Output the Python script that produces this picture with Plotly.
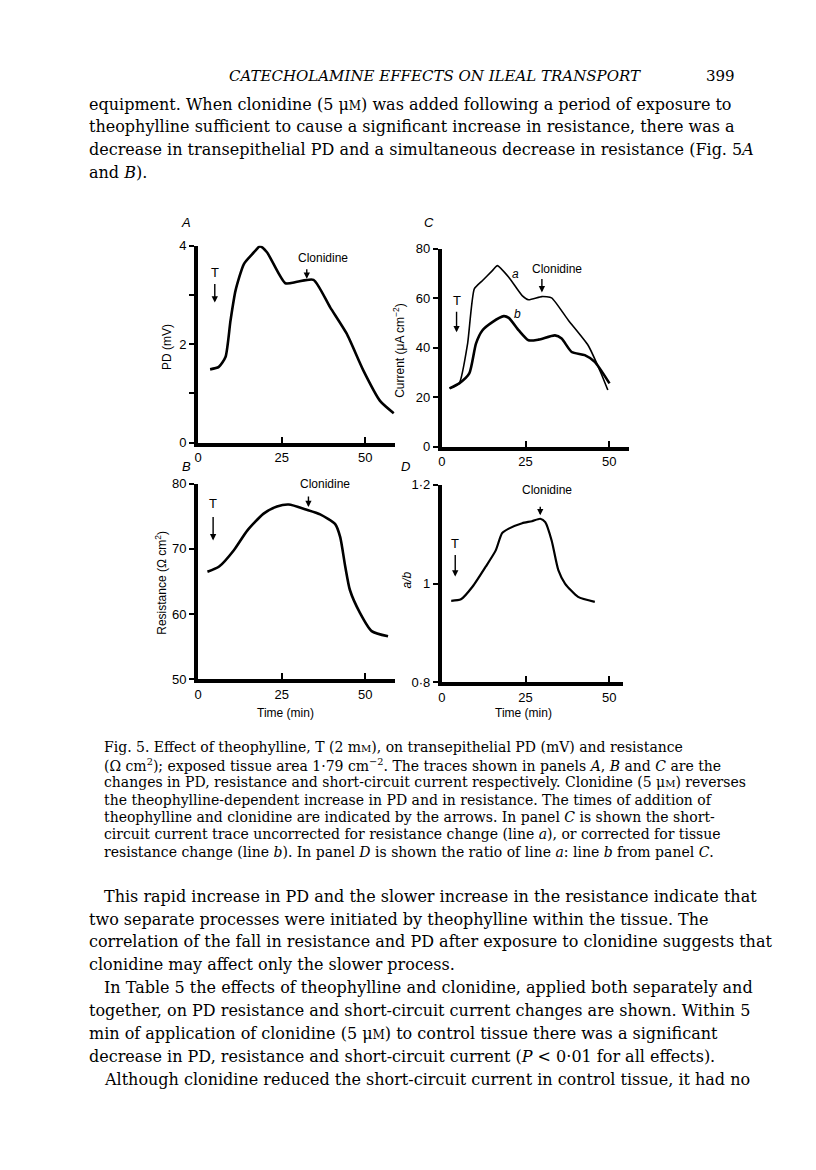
import plotly.graph_objects as go

# the html page adds an 8px body margin, so the figure is 16px smaller than the page
W, H = 800, 1154
OFF = 8
# small vertical correction measured from earlier renders
SHIFT_Y, SCALE_Y = 6.0, 0.988

# Panel A: transepithelial PD (mV) against time (min)
a_time = [3.6, 6.2, 8.2, 9.7, 11.2, 13.7, 16.2, 18.5, 20.6, 26.1, 29.6, 34.5, 39.5, 44.4, 49.4, 54.4, 58.5]
a_pd = [1.49, 1.54, 1.74, 2.48, 3.09, 3.63, 3.83, 3.99, 3.87, 3.24, 3.27, 3.31, 2.75, 2.22, 1.47, 0.85, 0.6]

# Panel B: resistance (ohm cm2)
b_time = [2.8, 6.3, 10.7, 14.7, 19.6, 23.6, 27.1, 32.5, 36.5, 41.0, 42.5, 44.0, 45.4, 48.4, 51.9, 56.8]
b_res = [66.5, 67.3, 69.8, 72.8, 75.4, 76.5, 76.8, 76.0, 75.3, 73.8, 71.8, 67.3, 63.7, 60.2, 57.4, 56.6]

# Panel C: short-circuit current, line a (uncorrected) and line b (corrected)
c_time_a = [2.3, 5.2, 7.7, 9.7, 12.1, 15.1, 16.6, 20.0, 24.0, 25.9, 29.9, 32.8, 37.8, 43.7, 47.6, 49.6]
c_cur_a = [23.6, 25.6, 41.7, 63.8, 67.1, 71.2, 73.2, 68.5, 61.1, 59.4, 60.7, 60.2, 51.1, 41.0, 29.6, 22.9]
c_time_b = [2.3, 5.2, 8.2, 10.2, 12.1, 15.1, 18.5, 20.0, 23.0, 25.9, 28.9, 33.8, 35.8, 38.8, 42.7, 45.7, 50.1]
c_cur_b = [23.6, 25.6, 29.6, 41.7, 47.0, 50.4, 52.8, 52.1, 47.0, 43.0, 43.3, 45.0, 43.7, 38.3, 37.0, 34.3, 25.6]

# Panel D: ratio a/b
d_time = [2.8, 5.7, 9.2, 13.1, 16.1, 18.0, 20.0, 24.0, 26.9, 29.4, 30.9, 32.8, 34.8, 36.8, 40.7, 45.7]
d_ratio = [0.965, 0.968, 0.994, 1.034, 1.067, 1.102, 1.111, 1.122, 1.126, 1.131, 1.124, 1.087, 1.027, 1.0, 0.973, 0.963]

# arrow markers: (time, y of arrow tip) for theophylline (T) and clonidine
t_marks = {"A": (5.0, 2.85), "B": (4.5, 71.3), "C": (4.4, 46.3), "D": (4.0, 1.014)}
clon_marks = {"A": (32.5, 3.33), "B": (33.0, 76.4), "C": (29.9, 62.4), "D": (29.4, 1.138)}

header = "<i>CATECHOLAMINE EFFECTS ON ILEAL TRANSPORT</i>"
page_no = "399"
mu_m = "\u03bc<span style='font-size:12px'>M</span>"
para1 = [
    f"equipment. When clonidine (5 {mu_m}) was added following a period of exposure to",
    "theophylline sufficient to cause a significant increase in resistance, there was a",
    "decrease in transepithelial PD and a simultaneous decrease in resistance (Fig. 5<i>A</i>",
    "and <i>B</i>).",
]
mm_c = "m<span style='font-size:10px'>M</span>"
mu_c = "\u03bc<span style='font-size:10px'>M</span>"
caption = [
    f"Fig. 5. Effect of theophylline, T (2 {mm_c}), on transepithelial PD (mV) and resistance",
    "(\u03a9 cm<sup>2</sup>); exposed tissue area 1\u00b779 cm<sup>\u22122</sup>. The traces shown in panels <i>A</i>, <i>B</i> and <i>C</i> are the",
    f"changes in PD, resistance and short-circuit current respectively. Clonidine (5 {mu_c}) reverses",
    "the theophylline-dependent increase in PD and in resistance. The times of addition of",
    "theophylline and clonidine are indicated by the arrows. In panel <i>C</i> is shown the short-",
    "circuit current trace uncorrected for resistance change (line <i>a</i>), or corrected for tissue",
    "resistance change (line <i>b</i>). In panel <i>D</i> is shown the ratio of line <i>a</i>: line <i>b</i> from panel <i>C</i>.",
]
para2 = [
    ("This rapid increase in PD and the slower increase in the resistance indicate that", True),
    ("two separate processes were initiated by theophylline within the tissue. The", False),
    ("correlation of the fall in resistance and PD after exposure to clonidine suggests that", False),
    ("clonidine may affect only the slower process.", False),
    ("In Table 5 the effects of theophylline and clonidine, applied both separately and", True),
    ("together, on PD resistance and short-circuit current changes are shown. Within 5", False),
    (f"min of application of clonidine (5 {mu_m}) to control tissue there was a significant", False),
    ("decrease in PD, resistance and short-circuit current (<i>P</i> &lt; 0\u00b701 for all effects).", False),
    ("Although clonidine reduced the short-circuit current in control tissue, it had no", True),
]


def fy(y):
    # page pixel row -> paper fraction
    y = (y - SHIFT_Y) / SCALE_Y
    return 1 - (y - OFF) / H


def px(x, y):
    return (x - OFF) / W, fy(y)


def xdom(x0, x1):
    return [(x0 - OFF) / W, (x1 - OFF) / W]


def ydom(top, bottom):
    return [fy(bottom), fy(top)]


fig = go.Figure()
fig.add_trace(go.Scatter(x=a_time, y=a_pd, mode="lines", xaxis="x", yaxis="y",
                         line=dict(color="black", width=2.6, shape="spline", smoothing=0.6)))
fig.add_trace(go.Scatter(x=c_time_a, y=c_cur_a, mode="lines", xaxis="x2", yaxis="y2",
                         line=dict(color="black", width=1.6, shape="spline", smoothing=0.5)))
fig.add_trace(go.Scatter(x=c_time_b, y=c_cur_b, mode="lines", xaxis="x2", yaxis="y2",
                         line=dict(color="black", width=2.6, shape="spline", smoothing=0.6)))
fig.add_trace(go.Scatter(x=b_time, y=b_res, mode="lines", xaxis="x3", yaxis="y3",
                         line=dict(color="black", width=2.6, shape="spline", smoothing=0.6)))
fig.add_trace(go.Scatter(x=d_time, y=d_ratio, mode="lines", xaxis="x4", yaxis="y4",
                         line=dict(color="black", width=2.2, shape="spline", smoothing=0.6)))

tick_font = dict(family="Liberation Sans, Arial", size=13, color="black")


def xax(dom, rng, anchor):
    return dict(domain=dom, range=rng, anchor=anchor, showgrid=False, zeroline=False,
                showline=True, linecolor="black", linewidth=4, ticks="inside", ticklen=6,
                tickwidth=1.5, tickcolor="black", tickvals=[0, 25, 50], tickfont=tick_font)


def yax(dom, rng, anchor, vals, text):
    return dict(domain=dom, range=rng, anchor=anchor, showgrid=False, zeroline=False,
                showline=True, linecolor="black", linewidth=4, ticks="outside", ticklen=5,
                tickwidth=1.5, tickcolor="black", tickvals=vals, ticktext=text, tickfont=tick_font)


fig.update_layout(
    width=W, height=H, margin=dict(l=0, r=0, t=0, b=0),
    paper_bgcolor="white", plot_bgcolor="white", showlegend=False,
    xaxis=xax(xdom(195, 393), [0, 58.9], "y"),
    yaxis=yax(ydom(245, 442), [0, 4], "x", [0, 1, 2, 3, 4], ["0", "", "2", "", "4"]),
    xaxis2=xax(xdom(440, 628), [0, 55.9], "y2"),
    yaxis2=yax(ydom(248, 446), [0, 80], "x2", [0, 20, 40, 60, 80], ["0", "20", "40", "60", "80"]),
    xaxis3=xax(xdom(195, 393), [0, 58.9], "y3"),
    yaxis3=yax(ydom(483, 679), [50, 80], "x3", [50, 60, 70, 80], ["50", "60", "70", "80"]),
    xaxis4=xax(xdom(440, 622), [0, 54.1], "y4"),
    yaxis4=yax(ydom(484, 682), [0.8, 1.2], "x4", [0.8, 1.0, 1.2], ["0\u00b78", "1", "1\u00b72"]),
)

ann = []
small = dict(family="Liberation Sans, Arial", size=12, color="black")
refs = {"A": ("x", "y"), "B": ("x3", "y3"), "C": ("x2", "y2"), "D": ("x4", "y4")}
# arrow lengths and label offsets in pixels, per panel
t_arrow = {"A": (20, 30), "B": (25, 37), "C": (22, 32), "D": (23, 33)}
c_arrow = {"A": (11, 16, 21), "B": (12, 17, 23), "C": (15, 15, 23), "D": (10, 7, 25)}
for k, (xr, yr) in refs.items():
    tx, ty = t_marks[k]
    alen, toff = t_arrow[k]
    ann.append(dict(x=tx, y=ty, xref=xr, yref=yr, text="", showarrow=True, ax=0, ay=-alen,
                    arrowhead=2, arrowsize=0.9, arrowwidth=1.4, arrowcolor="black"))
    ann.append(dict(x=tx, y=ty, xref=xr, yref=yr, text="T", showarrow=False, yshift=toff,
                    xanchor="center", yanchor="middle",
                    font=dict(family="Liberation Sans, Arial", size=13, color="black")))
    cx, cy = clon_marks[k]
    alen, lx, ly = c_arrow[k]
    ann.append(dict(x=cx, y=cy, xref=xr, yref=yr, text="", showarrow=True, ax=0, ay=-alen,
                    arrowhead=2, arrowsize=0.9, arrowwidth=1.4, arrowcolor="black"))
    ann.append(dict(x=cx, y=cy, xref=xr, yref=yr, text="Clonidine", showarrow=False,
                    xshift=lx, yshift=ly, xanchor="center", yanchor="middle", font=small))

# line labels in panel C
ann.append(dict(x=22.0, y=69.8, xref="x2", yref="y2", text="<i>a</i>", showarrow=False, font=small))
ann.append(dict(x=22.5, y=53.5, xref="x2", yref="y2", text="<i>b</i>", showarrow=False, font=small))

sans_it = dict(family="Liberation Sans, Arial", size=13, color="black")
for lbl, (x, y) in {"A": (183, 222), "C": (427, 222), "B": (183, 466), "D": (403, 466)}.items():
    xx, yy = px(x, y)
    ann.append(dict(x=xx, y=yy, xref="paper", yref="paper", text=f"<i>{lbl}</i>", showarrow=False,
                    xanchor="center", yanchor="middle", font=sans_it))

axis_titles = [
    ("PD (mV)", 164, 346),
    ("Current (\u03bcA cm<sup>\u22122</sup>)", 397, 350),
    ("Resistance (\u03a9 cm<sup>2</sup>)", 157, 582),
    ("<i>a/b</i>", 405, 580),
]
for t, x, y in axis_titles:
    xx, yy = px(x, y)
    ann.append(dict(x=xx, y=yy, xref="paper", yref="paper", text=t, textangle=-90, showarrow=False,
                    xanchor="center", yanchor="middle",
                    font=dict(family="Liberation Sans, Arial", size=12, color="black")))
for x in (283, 522):
    xx, yy = px(x, 713)
    ann.append(dict(x=xx, y=yy, xref="paper", yref="paper", text="Time (min)", showarrow=False,
                    xanchor="center", yanchor="middle",
                    font=dict(family="Liberation Sans, Arial", size=12, color="black")))

serif = "DejaVu Serif, Liberation Serif, serif"
xx, yy = px(433, 75)
ann.append(dict(x=xx, y=yy, xref="paper", yref="paper", text=header, showarrow=False,
                xanchor="center", yanchor="middle", font=dict(family=serif, size=15, color="black")))
xx, yy = px(720, 75)
ann.append(dict(x=xx, y=yy, xref="paper", yref="paper", text=page_no, showarrow=False,
                xanchor="center", yanchor="middle", font=dict(family=serif, size=15, color="black")))
for i, line in enumerate(para1):
    xx, yy = px(83, 103 + i * 23)
    ann.append(dict(x=xx, y=yy, xref="paper", yref="paper", xanchor="left", yanchor="middle",
                    text=line, showarrow=False, font=dict(family=serif, size=16, color="black")))
for i, line in enumerate(caption):
    xx, yy = px(98, 747 + i * 17.4)
    ann.append(dict(x=xx, y=yy, xref="paper", yref="paper", xanchor="left", yanchor="middle",
                    text=line, showarrow=False, font=dict(family=serif, size=14, color="black")))
for i, (line, indent) in enumerate(para2):
    xx, yy = px(98 if indent else 83, 896 + i * 22.9)
    ann.append(dict(x=xx, y=yy, xref="paper", yref="paper", xanchor="left", yanchor="middle",
                    text=line, showarrow=False, font=dict(family=serif, size=16, color="black")))

fig.update_layout(annotations=ann)
fig.write_html("out.html")
